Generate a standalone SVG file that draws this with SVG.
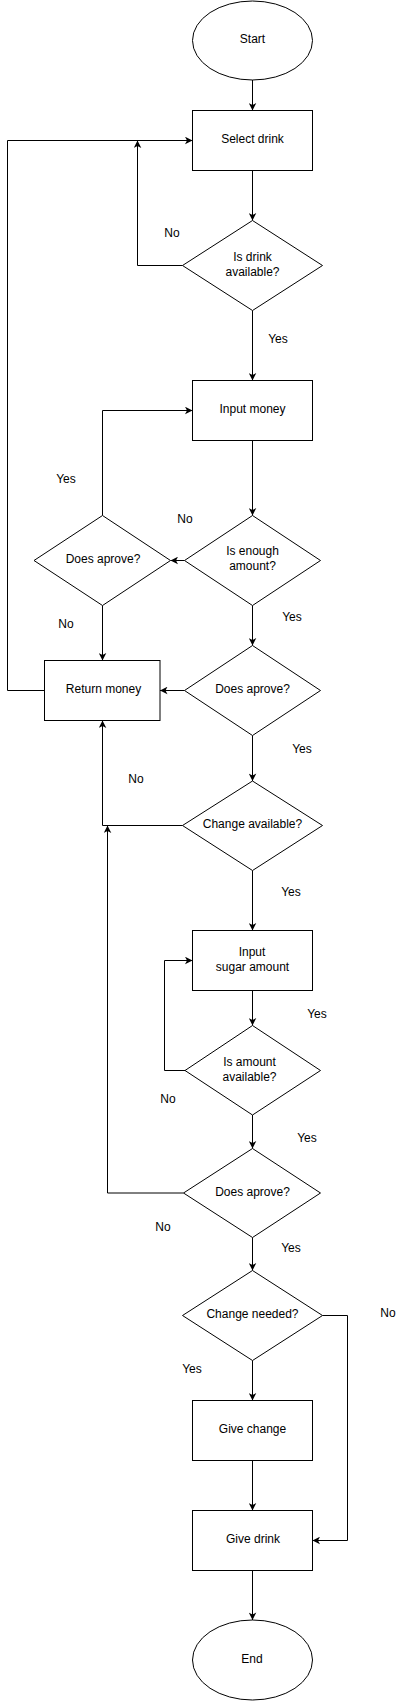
<svg xmlns="http://www.w3.org/2000/svg" width="408" height="1701" viewBox="0 0 408 1701">
<style>
.s{fill:#fff;stroke:#000;stroke-width:1}
.t{font-family:"Liberation Sans",Arial,sans-serif;font-size:12px;fill:#000;text-anchor:middle;dominant-baseline:central}
.c{fill:none;stroke:#000;stroke-width:1}
</style>
<defs>
<marker id="arr" markerWidth="8" markerHeight="8" viewBox="-8 -4 8 8" refX="0" refY="0" orient="auto" markerUnits="userSpaceOnUse"><path d="M0,0 L-7.5,-3.8 L-5.5,0 L-7.5,3.8 Z" fill="#000"/></marker>
</defs>
<rect width="408" height="1701" fill="#fff"/>
<g id="connectors">
<path class="c" d="M252.5,80 V110.5" marker-end="url(#arr)"/>
<path class="c" d="M252.5,170.5 V220.5" marker-end="url(#arr)"/>
<path class="c" d="M182.5,265.5 H137.5 V140.5" marker-end="url(#arr)"/>
<path class="c" d="M252.5,310.5 V380.5" marker-end="url(#arr)"/>
<path class="c" d="M252.5,440.5 V515.5" marker-end="url(#arr)"/>
<path class="c" d="M184.5,560.5 H170.5" marker-end="url(#arr)"/>
<path class="c" d="M102.5,515.5 V410.5 H192.5" marker-end="url(#arr)"/>
<path class="c" d="M102.5,605.5 V660.5" marker-end="url(#arr)"/>
<path class="c" d="M50,690.5 H7.5 V140.5 H192.5" marker-end="url(#arr)"/>
<path class="c" d="M252.5,605.5 V645.5" marker-end="url(#arr)"/>
<path class="c" d="M184.5,690.5 H160" marker-end="url(#arr)"/>
<path class="c" d="M252.5,735.5 V781" marker-end="url(#arr)"/>
<path class="c" d="M182.5,825.5 H102.5 V720.5" marker-end="url(#arr)"/>
<path class="c" d="M252.5,870.5 V930.5" marker-end="url(#arr)"/>
<path class="c" d="M252.5,990.5 V1025.5" marker-end="url(#arr)"/>
<path class="c" d="M185,1070.5 H164.5 V960.5 H192.5" marker-end="url(#arr)"/>
<path class="c" d="M252.5,1115 V1148.5" marker-end="url(#arr)"/>
<path class="c" d="M183.5,1193 H107.5 V825.5" marker-end="url(#arr)"/>
<path class="c" d="M252.5,1237.5 V1270.5" marker-end="url(#arr)"/>
<path class="c" d="M322.5,1315.5 H347.5 V1540.5 H312.5" marker-end="url(#arr)"/>
<path class="c" d="M252.5,1360.5 V1400.5" marker-end="url(#arr)"/>
<path class="c" d="M252.5,1460.5 V1510.5" marker-end="url(#arr)"/>
<path class="c" d="M252.5,1570.5 V1620" marker-end="url(#arr)"/>
<text class="t" x="172" y="233">No</text>
<text class="t" x="278" y="339">Yes</text>
<text class="t" x="185" y="519">No</text>
<text class="t" x="66" y="479">Yes</text>
<text class="t" x="66" y="624">No</text>
<text class="t" x="292" y="617">Yes</text>
<text class="t" x="302" y="749">Yes</text>
<text class="t" x="136" y="779">No</text>
<text class="t" x="291" y="892">Yes</text>
<text class="t" x="317" y="1014">Yes</text>
<text class="t" x="168" y="1099">No</text>
<text class="t" x="307" y="1138">Yes</text>
<text class="t" x="163" y="1227">No</text>
<text class="t" x="291" y="1248">Yes</text>
<text class="t" x="388" y="1313">No</text>
<text class="t" x="192" y="1369">Yes</text>
</g>
<g id="start">
<ellipse class="s" cx="252.5" cy="40.5" rx="60" ry="39.5"/>
<text class="t" x="252.5" y="39">Start</text>
</g>
<g id="select-drink">
<rect class="s" x="192.5" y="110.5" width="120" height="60"/>
<text class="t" x="252.5" y="139">Select drink</text>
</g>
<g id="is-drink-available">
<path class="s" d="M252.5,220.5 L322.5,265.5 L252.5,310.5 L182.5,265.5 Z"/>
<text class="t" x="252.5" y="257">Is drink</text>
<text class="t" x="252.5" y="272">available?</text>
</g>
<g id="input-money">
<rect class="s" x="192.5" y="380.5" width="120" height="60"/>
<text class="t" x="252.5" y="409">Input money</text>
</g>
<g id="is-enough-amount">
<path class="s" d="M252.5,515.5 L320.5,560.5 L252.5,605.5 L184.5,560.5 Z"/>
<text class="t" x="252.5" y="551">Is enough</text>
<text class="t" x="252.5" y="566">amount?</text>
</g>
<g id="does-aprove-1">
<path class="s" d="M102.5,515.5 L170.5,560.5 L102.5,605.5 L34,560.5 Z"/>
<text class="t" x="103" y="559">Does aprove?</text>
</g>
<g id="return-money">
<rect class="s" x="44.5" y="660.5" width="115.5" height="60"/>
<text class="t" x="103.5" y="689">Return money</text>
</g>
<g id="does-aprove-2">
<path class="s" d="M252.5,645.5 L320.5,690.5 L252.5,735.5 L184.5,690.5 Z"/>
<text class="t" x="252.5" y="689">Does aprove?</text>
</g>
<g id="change-available">
<path class="s" d="M252.5,781 L322.5,825.5 L252.5,870.5 L182.5,825.5 Z"/>
<text class="t" x="252.5" y="824">Change available?</text>
</g>
<g id="input-sugar">
<rect class="s" x="192.5" y="930.5" width="120" height="60"/>
<text class="t" x="252" y="952">Input</text>
<text class="t" x="252.5" y="967">sugar amount</text>
</g>
<g id="is-amount-available">
<path class="s" d="M252.5,1025.5 L320.5,1070.5 L252.5,1115 L185,1070.5 Z"/>
<text class="t" x="249.5" y="1062">Is amount</text>
<text class="t" x="249.5" y="1077">available?</text>
</g>
<g id="does-aprove-3">
<path class="s" d="M252.5,1148.5 L320.5,1193 L252.5,1237.5 L183.5,1193 Z"/>
<text class="t" x="252.5" y="1192">Does aprove?</text>
</g>
<g id="change-needed">
<path class="s" d="M252.5,1270.5 L322.5,1315.5 L252.5,1360.5 L182.5,1315.5 Z"/>
<text class="t" x="252.5" y="1313.5">Change needed?</text>
</g>
<g id="give-change">
<rect class="s" x="192.5" y="1400.5" width="120" height="60"/>
<text class="t" x="252.5" y="1428.5">Give change</text>
</g>
<g id="give-drink">
<rect class="s" x="192.5" y="1510.5" width="120" height="60"/>
<text class="t" x="253" y="1538.5">Give drink</text>
</g>
<g id="end">
<ellipse class="s" cx="252.5" cy="1660" rx="60" ry="40"/>
<text class="t" x="252" y="1659">End</text>
</g>
</svg>
